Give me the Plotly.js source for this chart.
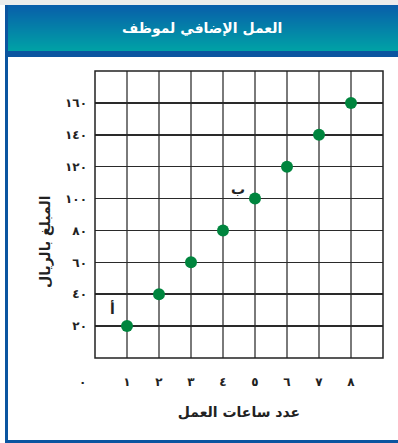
<!DOCTYPE html>
<html><head><meta charset="utf-8">
<script src="https://cdn.plot.ly/plotly-3.0.1.min.js"></script>
<style>html,body{margin:0;padding:0;background:#fff}#c{width:398px;height:443px}</style>
</head><body><div id="c"></div>
<script>
// Data
const hours = [1, 2, 3, 4, 5, 6, 7, 8];
const amounts = [20, 40, 60, 80, 100, 120, 140, 160];
const xTickVals = [1, 2, 3, 4, 5, 6, 7, 8];
const xTickText = ['١', '٢', '٣', '٤', '٥', '٦', '٧', '٨'];
const yTickVals = [20, 40, 60, 80, 100, 120, 140, 160];
const yTickText = ['٢٠', '٤٠', '٦٠', '٨٠', '١٠٠', '١٢٠', '١٤٠', '١٦٠'];
const zeroLabel = '٠';
const pointLabels = [{t: 'أ', x: 0.56, y: 31}, {t: 'ب', x: 4.47, y: 106}];
const chartTitle = 'العمل الإضافي لموظف';
const xTitle = 'عدد ساعات العمل';
const yTitle = 'المبلغ بالريال';

(function () {
const L = 95, R = 383, T = 71, B = 358, W = 398, H = 443;
const px = x => (x - L) / (R - L);
const py = y => (B - y) / (B - T);
const fontFam = 'DejaVu Sans';

const shapes = [];
shapes.push({type:'rect', xref:'paper', yref:'paper', x0:px(0), x1:px(W), y0:py(0), y1:py(5), fillcolor:'#ececec', line:{width:0}, layer:'below'});
const cTop = [8, 94, 170], cBot = [0, 162, 166];
const g0 = 5, g1 = 51;
for (let y = g0; y < g1; y++) {
  const f = (y - g0) / (g1 - g0 - 1);
  const c = cTop.map((v, i) => Math.round(v + (cBot[i] - v) * f));
  shapes.push({type:'rect', xref:'paper', yref:'paper', x0:px(5), x1:px(W), y0:py(y + 1.05), y1:py(y), fillcolor:`rgb(${c[0]},${c[1]},${c[2]})`, line:{width:0}, layer:'below'});
}
shapes.push({type:'rect', xref:'paper', yref:'paper', x0:px(5), x1:px(W), y0:py(57), y1:py(51), fillcolor:'#0b55a0', line:{width:0}, layer:'below'});
shapes.push({type:'rect', xref:'paper', yref:'paper', x0:px(5), x1:px(8), y0:py(H), y1:py(5), fillcolor:'#0b55a0', line:{width:0}, layer:'below'});
shapes.push({type:'rect', xref:'paper', yref:'paper', x0:px(5), x1:px(W), y0:py(H), y1:py(440), fillcolor:'#0b55a0', line:{width:0}, layer:'below'});
shapes.push({type:'rect', xref:'paper', yref:'paper', x0:0, x1:1, y0:0, y1:1, fillcolor:'rgba(0,0,0,0)', line:{color:'#222', width:1.5}, layer:'above'});

const annotations = [];
annotations.push({xref:'paper', yref:'paper', x:px(82), y:py(382), text:zeroLabel, showarrow:false, xanchor:'center', yanchor:'middle', font:{family:fontFam, size:12, weight:'bold', color:'#222'}});
pointLabels.forEach(p => annotations.push({xref:'x', yref:'y', x:p.x, y:p.y, text:p.t, showarrow:false, font:{family:fontFam, size:14, weight:'bold', color:'#222'}}));
annotations.push({xref:'paper', yref:'paper', x:px(45), y:py(242), text:'<b>' + yTitle + '</b>', textangle:-90, showarrow:false, xanchor:'center', yanchor:'middle', font:{family:fontFam, size:14, color:'#222'}});

const trace = {
  x: hours, y: amounts, type:'scatter', mode:'markers',
  marker:{color:'#00853e', size:12, line:{width:0}},
  hoverinfo:'skip', cliponaxis:false
};

const layout = {
  width: W, height: H,
  margin:{l:L, r:W - R, t:T, b:H - B, pad:0},
  paper_bgcolor:'#fff', plot_bgcolor:'#fff',
  showlegend:false,
  title:{text:'<b>' + chartTitle + '</b>', font:{family:fontFam, size:14, color:'#fff'}, x:0.508, xanchor:'center', y:1 - 28/H, yanchor:'middle', yref:'container', xref:'container'},
  xaxis:{range:[0, 9], tickvals:xTickVals, ticktext:xTickText, showgrid:true, gridcolor:'#7a7a7a', gridwidth:1.5, zeroline:false, showline:false, ticks:'', ticklabelstandoff:15, tickfont:{family:fontFam, size:12, weight:'bold', color:'#222'}, fixedrange:true,
    title:{text:'<b>' + xTitle + '</b>', font:{family:fontFam, size:14, color:'#222'}, standoff:19}},
  yaxis:{range:[0, 180], tickvals:yTickVals, ticktext:yTickText, showgrid:true, gridcolor:'#2a2a2a', gridwidth:1.5, zeroline:false, showline:false, ticks:'', ticklabelstandoff:7, tickfont:{family:fontFam, size:12, weight:'bold', color:'#222'}, fixedrange:true},
  shapes: shapes, annotations: annotations
};
Plotly.newPlot('c', [trace], layout, {displayModeBar:false, staticPlot:true});
})();
</script></body></html>
